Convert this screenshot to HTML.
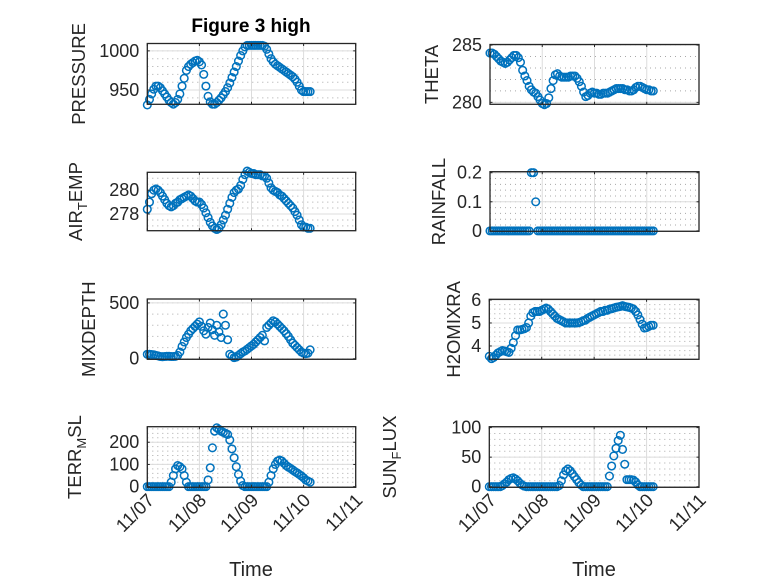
<!DOCTYPE html>
<html><head><meta charset="utf-8"><style>
body{margin:0;background:#fff}
svg{display:block;font-family:"Liberation Sans",sans-serif}
</style></head><body>
<svg id="fig" width="778" height="583" viewBox="0 0 778 583" xmlns="http://www.w3.org/2000/svg">
<rect width="778" height="583" fill="#fff"/>
<text x="251" y="32" font-size="19" font-weight="bold" text-anchor="middle" fill="#000">Figure 3 high</text>
<text x="251" y="576" font-size="20" text-anchor="middle" fill="#262626">Time</text>
<text x="594" y="576" font-size="20" text-anchor="middle" fill="#262626">Time</text>
</svg>
<script>
const dayTicks = ["11/07","11/08","11/09","11/10","11/11"];
const pressure = [931,938,945,951,955,955,953,949,945,941,937,934,932,934,938,945,955,965,975,980,983,985,987,988,986,982,970,955,942,935,932,932,934,937,940,944,948,953,959,966,973,980,987,994,1000,1005,1007,1007,1007,1007,1007,1007,1007,1007,1006,1002,996,990,986,983,981,979,977,975,973,971,969,967,964,960,955,950,948,948,948,948];
const airTemp = [278.4,279.0,279.7,280.0,280.1,280.0,279.8,279.5,279.2,278.9,278.7,278.6,278.7,278.9,279.0,279.2,279.3,279.4,279.5,279.6,279.5,279.3,279.1,279.0,279.0,278.8,278.5,278.1,277.7,277.3,277.0,276.8,276.7,276.8,277.1,277.5,277.9,278.4,278.9,279.4,279.8,280.0,280.1,280.4,280.9,281.3,281.6,281.5,281.4,281.4,281.3,281.3,281.3,281.2,281.2,281.0,280.6,280.2,280.0,279.9,279.8,279.6,279.5,279.3,279.1,278.9,278.7,278.5,278.2,277.9,277.5,277.1,276.9,276.9,276.8,276.8];
const theta = [284.3,284.3,284.2,284.0,283.8,283.6,283.5,283.4,283.5,283.7,283.9,284.1,284.1,283.9,283.5,282.8,282.3,281.9,281.4,281.1,280.9,280.8,280.5,280.2,279.9,279.8,279.9,280.4,281.2,281.9,282.4,282.5,282.3,282.2,282.2,282.2,282.2,282.3,282.3,282.3,282.1,281.8,281.4,280.9,280.5,280.6,280.8,280.9,280.8,280.8,280.7,280.7,280.8,280.8,280.8,280.9,281.0,281.1,281.2,281.2,281.2,281.2,281.1,281.1,281.0,281.0,281.1,281.3,281.4,281.4,281.3,281.2,281.1,281.1,281.0,281.0];
const rainfall = [0,0,0,0,0,0,0,0,0,0,0,0,0,0,0,0,0,0,0,0.2,0.2,0.1,0,0,0,0,0,0,0,0,0,0,0,0,0,0,0,0,0,0,0,0,0,0,0,0,0,0,0,0,0,0,0,0,0,0,0,0,0,0,0,0,0,0,0,0,0,0,0,0,0,0,0,0,0,0];
const mixDepth = [40,40,38,35,30,25,20,18,20,22,22,20,20,22,30,60,110,150,190,220,250,270,290,310,330,290,250,220,280,320,260,210,300,240,190,400,300,170,40,25,10,15,30,45,60,70,85,100,115,130,150,170,190,210,160,280,300,320,340,330,310,290,270,250,225,200,170,140,120,100,80,60,50,45,50,80];
const h2oMix = [3.55,3.45,3.5,3.6,3.7,3.75,3.8,3.78,3.75,3.72,3.9,4.15,4.45,4.7,4.7,4.72,4.75,4.8,5.0,5.3,5.45,5.5,5.5,5.5,5.55,5.6,5.65,5.6,5.5,5.4,5.3,5.2,5.15,5.1,5.05,5.0,5.0,5.0,5.0,5.0,5.0,5.02,5.05,5.1,5.12,5.2,5.25,5.3,5.35,5.4,5.45,5.5,5.5,5.55,5.55,5.6,5.62,5.65,5.68,5.7,5.72,5.75,5.72,5.7,5.68,5.65,5.6,5.5,5.35,5.15,4.95,4.78,4.8,4.85,4.9,4.9];
const terrMsl = [0,0,0,0,0,0,0,0,0,0,0,20,50,80,95,90,80,50,20,0,0,0,0,0,0,0,0,0,30,85,175,250,265,258,250,245,240,235,210,170,130,90,55,25,5,0,0,0,0,0,0,0,0,0,0,0,20,50,80,100,115,120,115,105,95,88,82,75,68,62,55,48,40,30,25,20];
const sunFlux = [0,0,0,0,0,0,2,5,8,12,14,15,13,10,6,3,1,0,0,0,0,0,0,0,0,0,0,0,0,0,0,0,2,10,20,27,30,27,22,17,12,7,3,0,0,0,0,0,0,0,0,0,0,0,0,18,35,52,65,78,87,63,38,12,12,12,11,8,3,0,0,0,0,0,0,0];

const NS = "http://www.w3.org/2000/svg";
const svg = document.getElementById("fig");
function mk(tag, attrs, parent){const e=document.createElementNS(NS,tag);for(const k in attrs)e.setAttribute(k,attrs[k]);(parent||svg).appendChild(e);return e;}

const panels = [
 {name:"pressure", data:pressure, x0:147.3,x1:355.7,y0:43.5,y1:104.3, ymin:931.8,ymax:1009.4, ticks:[950,1000], minor:10, label:["PRESSURE"], lx:85, xlab:false},
 {name:"theta", data:theta, x0:490,x1:699,y0:44.5,y1:104.3, ymin:279.83,ymax:285.05, ticks:[280,285], minor:1, label:["THETA"], lx:438, xlab:false},
 {name:"air-temp", data:airTemp, x0:147.3,x1:355.7,y0:172.3,y1:230.7, ymin:276.6,ymax:281.5, ticks:[278,280], minor:0.5, label:["AIR","T","EMP"], lx:82, xlab:false},
 {name:"rainfall", data:rainfall, x0:490,x1:699,y0:171.7,y1:231.3, ymin:-0.0015,ymax:0.2035, ticks:[0,0.1,0.2], minor:0.02, label:["RAINFALL"], lx:445, xlab:false},
 {name:"mix-depth", data:mixDepth, x0:147.3,x1:355.7,y0:299,y1:359.3, ymin:-5,ymax:535, ticks:[0,500], minor:100, label:["MIXDEPTH"], lx:95, xlab:false},
 {name:"h2o-mix", data:h2oMix, x0:489.3,x1:699,y0:299.3,y1:359.3, ymin:3.42,ymax:6.03, ticks:[4,5,6], minor:0.2, label:["H2OMIXRA"], lx:460, xlab:false},
 {name:"terr-msl", data:terrMsl, x0:147.3,x1:355.7,y0:426.7,y1:487.3, ymin:-3,ymax:270, ticks:[0,100,200], minor:20, label:["TERR","M","SL"], lx:81, xlab:true},
 {name:"sun-flux", data:sunFlux, x0:489.3,x1:699,y0:426.7,y1:487.3, ymin:-1,ymax:101.5, ticks:[0,50,100], minor:10, label:["SUN","F","LUX"], lx:396, xlab:true}
];

panels.forEach(p=>{
  const g = mk("g",{});
  
  
  const xs = d => p.x0 + (d/4)*(p.x1-p.x0);
  const ys = v => p.y1 - (v-p.ymin)/(p.ymax-p.ymin)*(p.y1-p.y0);
  for(let v=Math.ceil(p.ymin/p.minor)*p.minor; v<=p.ymax; v+=p.minor){
    const y=ys(v); if(y<p.y0+0.5||y>p.y1-0.5) continue;
    mk("line",{x1:p.x0,x2:p.x1,y1:y,y2:y,stroke:"#a8a8a8","stroke-width":1,"stroke-dasharray":"1 4"},g);
  }
  p.ticks.forEach(v=>{const y=ys(v); mk("line",{x1:p.x0,x2:p.x1,y1:y,y2:y,stroke:"#dcdcdc","stroke-width":1},g);});
  for(let d=1; d<4; d++){const x=xs(d); mk("line",{x1:x,x2:x,y1:p.y0,y2:p.y1,stroke:"#dcdcdc","stroke-width":1},g);}
  const dg = mk("g",{fill:"none",stroke:"#0072BD","stroke-width":1.5},g);
  p.data.forEach((v,i)=>{
    const c = mk("circle",{cx:xs(i/24),cy:ys(v),r:3.8},dg);
    
    
  });
  mk("rect",{x:p.x0,y:p.y0,width:p.x1-p.x0,height:p.y1-p.y0,fill:"none",stroke:"#262626","stroke-width":1.3},g);
  for(let d=0; d<=4; d++){const x=xs(d);
    mk("line",{x1:x,x2:x,y1:p.y1,y2:p.y1-2.5,stroke:"#262626"},g);
    mk("line",{x1:x,x2:x,y1:p.y0,y2:p.y0+2.5,stroke:"#262626"},g);
    if(p.xlab){
      const tx=x+8, ty=p.y1+14;
      const t = mk("text",{x:tx,y:ty,"font-size":18.5,"text-anchor":"end",fill:"#262626",transform:`rotate(-45 ${tx} ${ty})`},g);
      t.textContent = dayTicks[d];
      
      
    }
  }
  p.ticks.forEach(v=>{const y=ys(v);
    mk("line",{x1:p.x0,x2:p.x0+2.5,y1:y,y2:y,stroke:"#262626"},g);
    mk("line",{x1:p.x1,x2:p.x1-2.5,y1:y,y2:y,stroke:"#262626"},g);
    const t = mk("text",{x:p.x0-8,y:y+6,"font-size":18,"text-anchor":"end",fill:"#262626"},g);
    t.textContent = String(v);
    
    
  });
  const cy=(p.y0+p.y1)/2;
  const t = mk("text",{x:p.lx,y:cy,"font-size":18.5,"text-anchor":"middle",fill:"#262626",transform:`rotate(-90 ${p.lx} ${cy})`},g);
  
  
  if(p.label.length===1){t.textContent=p.label[0];}
  else{
    const a=mk("tspan",{},t); a.textContent=p.label[0];
    const b=mk("tspan",{dy:5,"font-size":13},t); b.textContent=p.label[1];
    const c=mk("tspan",{dy:-5},t); c.textContent=p.label[2];
  }
});
</script>
</body></html>
